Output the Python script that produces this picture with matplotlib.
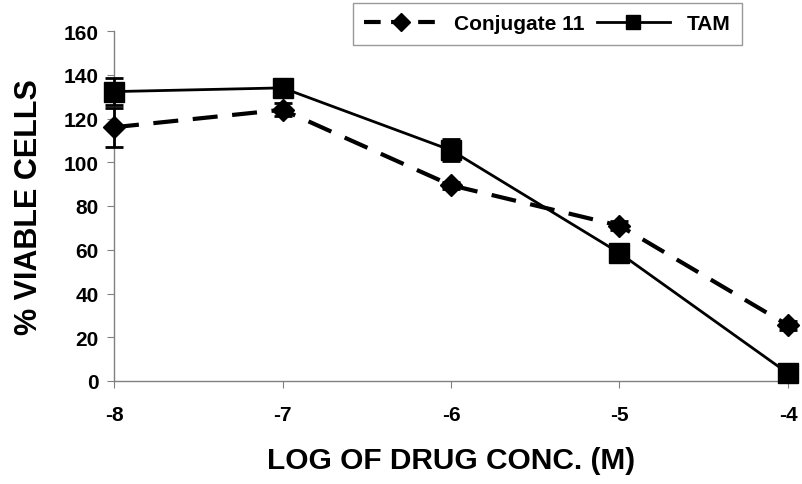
import matplotlib
matplotlib.use("Agg")
import matplotlib.pyplot as plt
from matplotlib.lines import Line2D

log_conc = [-8, -7, -6, -5, -4]
conj11 = [116, 124, 89.5, 71, 25.5]
conj11_err = [9, 3, 1.5, 2, 2]
tam = [132.3, 134, 105.5, 58.5, 3.5]
tam_err = [6, 2, 5, 1, 1]
yticks = [0, 20, 40, 60, 80, 100, 120, 140, 160]
xticks = [-8, -7, -6, -5, -4]

plt.rcParams['font.family'] = ['Liberation Sans', 'DejaVu Sans']
plt.rcParams['font.weight'] = 'bold'

fig = plt.figure(figsize=(8.03, 4.85), dpi=100)
ax = fig.add_axes([114/803, 1-382/485, (788-114)/803, (382-32)/485])

ax.errorbar(log_conc, conj11, yerr=conj11_err, color='black', lw=3,
            dashes=(6, 3.5), marker='D', ms=11, capsize=6.5, elinewidth=2,
            capthick=2, label='Conjugate 11', zorder=3, clip_on=False)
ax.errorbar(log_conc, tam, yerr=tam_err, color='black', lw=2,
            marker='s', ms=14, capsize=6.5, elinewidth=2, capthick=2,
            label='TAM', zorder=4, clip_on=False)

ax.set_xlim(-8, -4)
ax.set_ylim(0, 160)
ax.set_xticks(xticks)
ax.set_yticks(yticks)
ax.set_xticklabels([str(v) for v in xticks])
ax.tick_params(labelsize=15, direction='out', length=5, color='#808080')
ax.tick_params(axis='x', pad=12)
ax.tick_params(axis='y', pad=6)
for s in ['top', 'right']:
    ax.spines[s].set_visible(False)
for s in ['left', 'bottom']:
    ax.spines[s].set_color('#808080')
    ax.spines[s].set_linewidth(1)
for lab in ax.get_xticklabels() + ax.get_yticklabels():
    lab.set_fontweight('bold')
ax.set_xlabel('LOG OF DRUG CONC. (M)', fontsize=21.5, fontweight='bold', labelpad=16)
ax.set_ylabel('% VIABLE CELLS', fontsize=22, fontweight='bold', labelpad=14)

h1 = Line2D([], [], color='black', lw=3, dashes=(4, 2.5), marker='D', ms=9)
h2 = Line2D([], [], color='black', lw=2, marker='s', ms=10)
leg = fig.legend([h1, h2], ['Conjugate 11', 'TAM'], ncol=2,
                 loc='upper left', bbox_to_anchor=(353/803, 1-4/485),
                 borderaxespad=0,
                 fontsize=15, frameon=True, fancybox=False, handlelength=3.5,
                 columnspacing=0.6, borderpad=0.55, handletextpad=0.8)
leg.get_frame().set_edgecolor('#808080')
leg.get_frame().set_linewidth(1)
for t in leg.get_texts():
    t.set_fontweight('bold')

fig.savefig('out.png', dpi=100)
